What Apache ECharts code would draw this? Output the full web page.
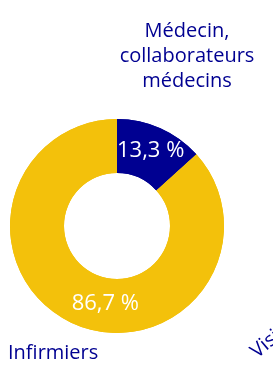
<!DOCTYPE html>
<html lang="fr">
<head>
<meta charset="UTF-8">
<title>Répartition</title>
<script src="https://cdn.jsdelivr.net/npm/echarts@6/dist/echarts.min.js"></script>
<style>
  html, body { margin: 0; padding: 0; background: #fff; }
  #chart { width: 273px; height: 375px; }
</style>
</head>
<body>
<div id="chart"></div>
<script>
  var categories = ['Médecin,\ncollaborateurs\nmédecins', 'Infirmiers'];
  var values = [13.3, 86.7];
  var colors = ['#000091', '#F3C10B'];

  var pieData = categories.map(function (name, i) {
    return { name: name, value: values[i], itemStyle: { color: colors[i] } };
  });

  var chart = echarts.init(document.getElementById('chart'));
  var font = '"Open Sans", sans-serif';

  chart.setOption({
    animation: false,
    series: [
      {
        // anneau + pourcentages
        type: 'pie',
        center: [117, 226],
        radius: [53, 107],
        startAngle: 90,
        clockwise: true,
        silent: true,
        label: {
          position: 'inside',
          color: '#fff',
          fontSize: 22,
          fontFamily: font,
          formatter: function (p) {
            return p.value.toFixed(1).replace('.', ',') + ' %';
          }
        },
        labelLayout: function (p) {
          if (p.dataIndex === 1) return { dx: 22, dy: 2 };
          return { dy: 1 };
        },
        labelLine: { show: false },
        data: pieData
      },
      {
        // noms des catégories
        type: 'pie',
        center: [117, 226],
        radius: [53, 107],
        startAngle: 90,
        silent: true,
        itemStyle: { color: 'transparent' },
        label: {
          position: 'outside',
          color: '#000091',
          fontSize: 20,
          lineHeight: 25,
          fontFamily: font,
          overflow: 'none',
          edgeDistance: 0,
          formatter: '{b}'
        },
        labelLine: { show: false },
        labelLayout: function (p) {
          if (p.dataIndex === 0) return { x: 187, y: 56, align: 'center', verticalAlign: 'middle' };
          return { x: 8, y: 353, align: 'left', verticalAlign: 'middle' };
        },
        data: pieData
      }
    ],
    graphic: [
      {
        type: 'text',
        x: 260,
        y: 362,
        rotation: 40 * Math.PI / 180,
        style: { text: 'Visites', fill: '#000091', fontSize: 20, fontFamily: font, verticalAlign: 'bottom' }
      }
    ]
  });
</script>
</body>
</html>
